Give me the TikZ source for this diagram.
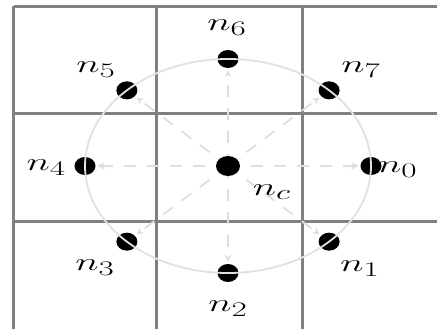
\documentclass[tikz,border=0pt]{standalone}
\usetikzlibrary{arrows.meta,calc,shapes.geometric}
\definecolor{gridgray}{RGB}{128,128,128}
\definecolor{ringgray}{RGB}{225,225,225}
\definecolor{arrgray}{RGB}{222,222,222}
\newcommand{\lab}[1]{\scalebox{1.6}[1]{\fontsize{32}{36}\selectfont$#1$}}
\begin{document}
\begin{tikzpicture}[x=1pt,y=1pt,
  gridline/.style={draw=gridgray,line width=3pt},
  dot/.style={ellipse,fill=black,minimum width=21pt,minimum height=18pt,inner sep=0pt},
  ring/.style={draw=ringgray,line width=1.8pt},
  ray/.style={draw=arrgray,line width=1.8pt,dash pattern=on 12pt off 11pt,-{Stealth[length=7pt,width=7pt]},shorten >=2pt},
  lbl/.style={inner sep=0pt}]
\useasboundingbox (0,0) rectangle (437,-329);
% grid
\draw[gridline] (13.5,-6.5) -- (437,-6.5);
\draw[gridline] (13.5,-114) -- (437,-114);
\draw[gridline] (13.5,-221) -- (437,-221);
\draw[gridline] (13.5,-6.5) -- (13.5,-329);
\draw[gridline] (156.5,-6.5) -- (156.5,-329);
\draw[gridline] (302,-6.5) -- (302,-329);
% outer dots
\coordinate (C) at (228,-166);
\foreach \i/\a in {0/0,1/-45,2/-90,3/-135,4/180,5/135,6/90,7/45}{
  \node[dot] (n\i) at ($(C)+({143*cos(\a)},{107*sin(\a)})$) {};
}
% rays
\foreach \i in {0,...,7}{
  \draw[ray] (C) -- (n\i);
}
% centre dot over rays
\node[dot,minimum width=24pt,minimum height=20pt] (nc) at (C) {};
% ring over dots
\draw[ring] (C) ellipse [x radius=143, y radius=107];
% labels
\node[lbl] (l0) [anchor=west] at (378,-170) {\lab{n_0}};
\node[lbl] (l1) at (360,-269) {\lab{n_1}};
\node[lbl] (l2) at (228,-309) {\lab{n_2}};
\node[lbl] (l3) at (95,-268) {\lab{n_3}};
\node[lbl] (l4) [anchor=east] at (66,-168) {\lab{n_4}};
\node[lbl] (l5) at (96,-70) {\lab{n_5}};
\node[lbl] (l6) at (227,-28) {\lab{n_6}};
\node[lbl] (l7) at (361,-70) {\lab{n_7}};
\node[lbl] (lc) at (272,-192) {\lab{n_c}};
\end{tikzpicture}
\end{document}
